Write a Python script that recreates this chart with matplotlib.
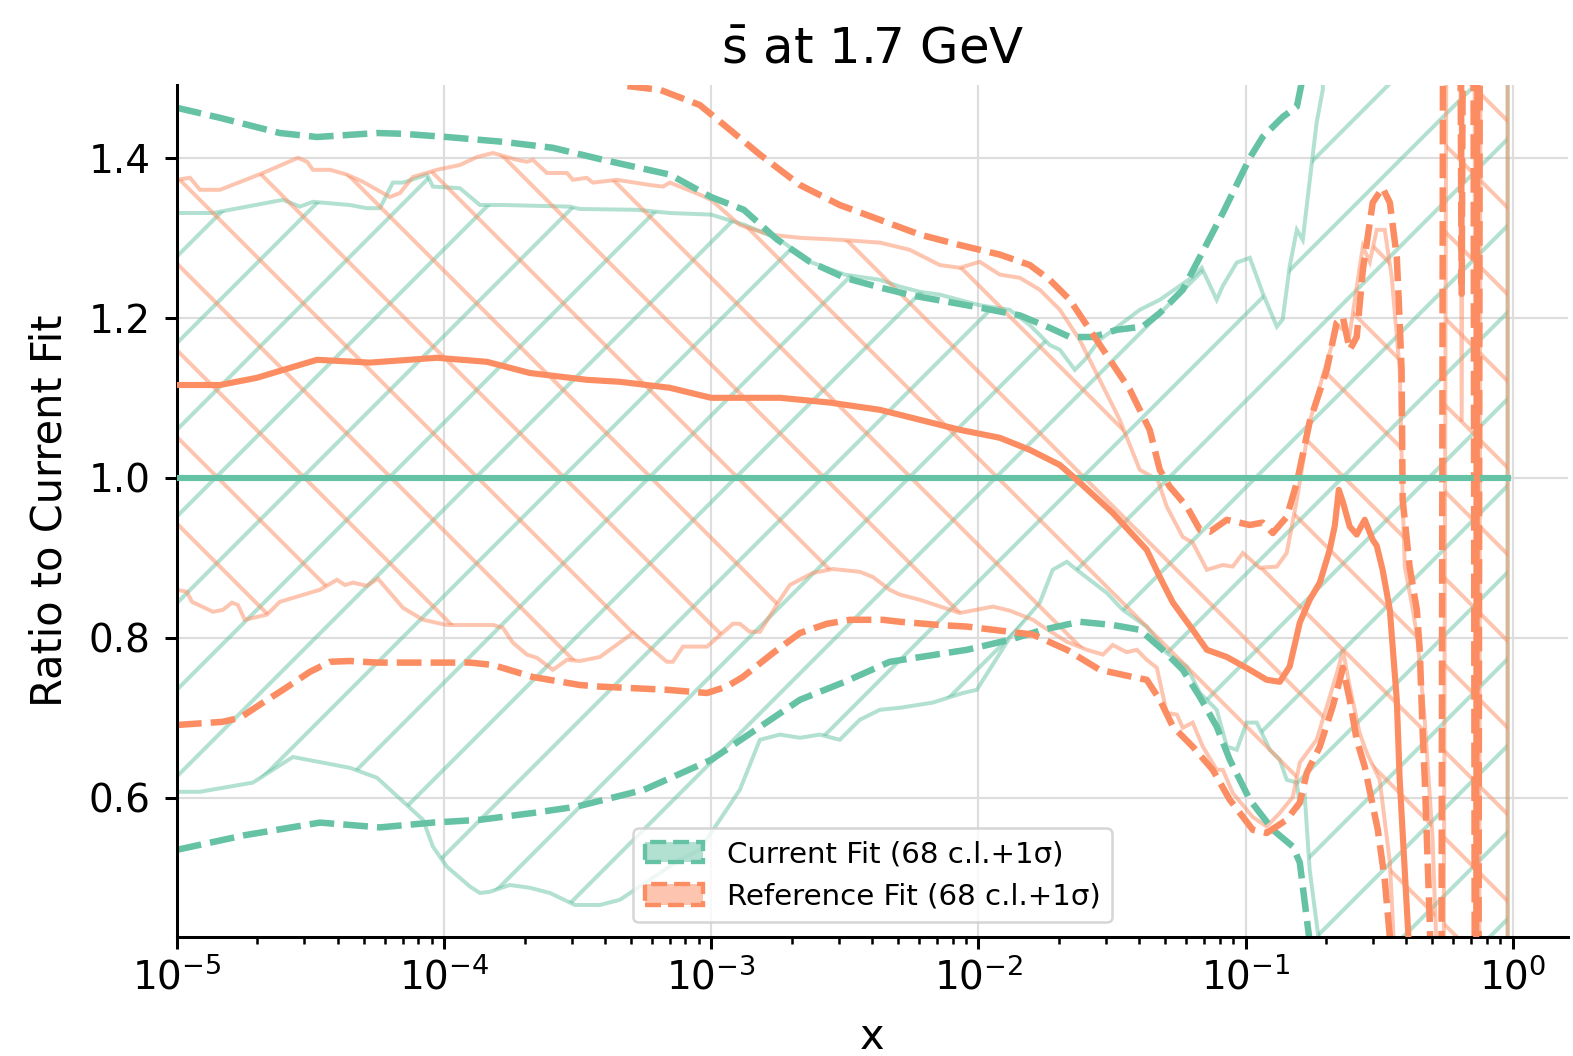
import numpy as np
import matplotlib
matplotlib.use("Agg")
import matplotlib.pyplot as plt
import matplotlib.patches as mpatches
from matplotlib.colors import to_rgba

GREEN = "#66c2a5"
ORANGE = "#fc8d62"

# All x values are log10(x); curves are ratios to the current fit central value.

# --- Current fit -------------------------------------------------------------
cur_cv_lx = [-5.0, -0.019]
cur_cv = [1.0, 1.0]

cur_up1s_lx = [-5.0, -4.839, -4.615, -4.476, -4.251, -4.154, -3.990, -3.780, -3.593, -3.405,
               -3.155, -3.001, -2.878, -2.754, -2.631, -2.5, -2.369, -2.249, -1.999, -1.845,
               -1.733, -1.658, -1.572, -1.482, -1.385, -1.321, -1.235, -1.171, -1.085, -0.984,
               -0.936, -0.861, -0.808, -0.786, -0.74, -0.685, -0.019]
cur_up1s = [1.4625, 1.45, 1.431, 1.426, 1.431, 1.43, 1.426, 1.42, 1.4125, 1.3975,
            1.379, 1.351, 1.335, 1.298, 1.27, 1.25, 1.238, 1.228, 1.213, 1.203,
            1.1875, 1.176, 1.176, 1.185, 1.189, 1.206, 1.235, 1.276, 1.331, 1.40,
            1.426, 1.451, 1.464, 1.50, 1.8, 3.0, 3.0]

cur_dn1s_lx = [-5.0, -4.75, -4.465, -4.24, -4.042, -3.866, -3.668, -3.503, -3.252, -3.0,
               -2.856, -2.668, -2.5, -2.332, -2.043, -1.883, -1.759, -1.621, -1.497, -1.396,
               -1.310, -1.235, -1.171, -1.108, -1.059, -0.984, -0.898, -0.823, -0.797, -0.76,
               -0.722, -0.685, -0.019]
cur_dn1s = [0.535, 0.553, 0.569, 0.563, 0.569, 0.5725, 0.581, 0.589, 0.61, 0.6475,
            0.68, 0.7225, 0.745, 0.77, 0.785, 0.7975, 0.81, 0.82, 0.816, 0.81,
            0.785, 0.76, 0.726, 0.689, 0.6475, 0.5975, 0.56, 0.539, 0.519, 0.42,
            0.0, -1.0, -1.0]

cur_up68_lx = [-5.0, -4.865, -4.603, -4.540, -4.491, -4.353, -4.289, -4.240, -4.192, -4.154,
               -4.064, -4.042, -3.941, -3.866, -3.780, -3.529, -3.492, -3.278, -3.155, -3.001,
               -2.874, -2.743, -2.631, -2.5, -2.369, -2.294, -2.219, -2.145, -1.999, -1.883,
               -1.808, -1.733, -1.695, -1.639, -1.602, -1.546, -1.471, -1.396, -1.321, -1.198,
               -1.164, -1.108, -1.085, -1.033, -0.984, -0.936, -0.883, -0.861, -0.835, -0.808,
               -0.786, -0.734, -0.711, -0.68, -0.62, -0.019]
cur_up68 = [1.331, 1.331, 1.3475, 1.339, 1.345, 1.341, 1.337, 1.337, 1.369, 1.369,
            1.379, 1.364, 1.362, 1.341, 1.341, 1.339, 1.336, 1.335, 1.331, 1.329,
            1.316, 1.2975, 1.27, 1.254, 1.2475, 1.239, 1.2325, 1.229, 1.216, 1.21,
            1.191, 1.166, 1.16, 1.135, 1.1475, 1.1725, 1.191, 1.21, 1.2225, 1.251,
            1.2625, 1.2225, 1.24, 1.269, 1.275, 1.231, 1.189, 1.198, 1.264, 1.31,
            1.2975, 1.444, 1.485, 2.0, 3.0, 3.0]

cur_dn68_lx = [-5.0, -4.914, -4.716, -4.566, -4.353, -4.251, -4.079, -4.042, -3.990, -3.903,
               -3.866, -3.829, -3.754, -3.679, -3.604, -3.510, -3.417, -3.342, -3.230, -3.118,
               -3.043, -2.968, -2.893, -2.818, -2.743, -2.668, -2.594, -2.519, -2.444, -2.369,
               -2.294, -2.171, -2.058, -2.006, -1.883, -1.770, -1.722, -1.669, -1.632, -1.519,
               -1.460, -1.370, -1.295, -1.220, -1.171, -1.108, -1.070, -1.033, -0.996, -0.958,
               -0.909, -0.872, -0.846, -0.808, -0.797, -0.778, -0.760, -0.725, -0.70, -0.66,
               -0.019]
cur_dn68 = [0.6075, 0.6075, 0.619, 0.651, 0.6375, 0.625, 0.5725, 0.539, 0.514, 0.489,
            0.481, 0.4825, 0.491, 0.4875, 0.481, 0.466, 0.466, 0.4725, 0.4975, 0.5225,
            0.535, 0.5725, 0.61, 0.6725, 0.679, 0.675, 0.679, 0.6725, 0.6975, 0.71,
            0.7125, 0.719, 0.731, 0.735, 0.80, 0.844, 0.885, 0.895, 0.885, 0.856,
            0.835, 0.814, 0.781, 0.764, 0.731, 0.71, 0.664, 0.66, 0.694, 0.694,
            0.66, 0.6475, 0.6225, 0.619, 0.591, 0.60, 0.51, 0.42, 0.0, -1.0,
            -1.0]

# --- Reference fit -----------------------------------------------------------
ref_cv_lx = [-5.0, -4.839, -4.701, -4.476, -4.278, -4.027, -3.840, -3.679, -3.466, -3.342,
             -3.155, -3.001, -2.743, -2.556, -2.369, -2.219, -2.070, -1.920, -1.808, -1.695,
             -1.632, -1.497, -1.370, -1.321, -1.272, -1.198, -1.145, -1.070, -0.984, -0.921,
             -0.872, -0.835, -0.797, -0.760, -0.722, -0.685, -0.666, -0.651, -0.636, -0.610,
             -0.584, -0.554, -0.524, -0.509, -0.487, -0.460, -0.434, -0.423, -0.386, -0.35,
             -0.30, -0.142, -0.127, -0.019]
ref_cv = [1.116, 1.116, 1.125, 1.1475, 1.144, 1.15, 1.145, 1.131, 1.1225, 1.12,
          1.1125, 1.10, 1.10, 1.094, 1.085, 1.0725, 1.06, 1.05, 1.035, 1.016,
          0.9975, 0.956, 0.91, 0.876, 0.844, 0.81, 0.785, 0.776, 0.76, 0.7475,
          0.745, 0.764, 0.819, 0.8475, 0.869, 0.91, 0.94, 0.985, 0.97, 0.939,
          0.929, 0.9475, 0.9225, 0.915, 0.885, 0.835, 0.7225, 0.6225, 0.40, 0.0,
          -1.0, -1.0, 3.0, 3.0]

ref_up1s_lx = [-5.0, -4.0, -3.5, -3.323, -3.192, -3.043, -2.930, -2.818, -2.668, -2.519,
               -2.369, -2.219, -2.070, -1.920, -1.808, -1.733, -1.658, -1.583, -1.508, -1.433,
               -1.359, -1.321, -1.284, -1.220, -1.171, -1.134, -1.070, -0.984, -0.936, -0.898,
               -0.846, -0.808, -0.760, -0.696, -0.659, -0.636, -0.610, -0.584, -0.561, -0.524,
               -0.487, -0.460, -0.434, -0.423, -0.416, -0.412, -0.386, -0.359, -0.348, -0.337,
               -0.329, -0.311, -0.292, -0.273, -0.254, -0.217, -0.191, -0.168, -0.152, -0.137,
               -0.019]
ref_up1s = [1.62, 1.60, 1.54, 1.49, 1.485, 1.466, 1.435, 1.404, 1.366, 1.341,
            1.3225, 1.304, 1.291, 1.279, 1.266, 1.2475, 1.2225, 1.185, 1.1475, 1.11,
            1.06, 1.01, 0.989, 0.964, 0.935, 0.9325, 0.9475, 0.941, 0.944, 0.931,
            0.951, 0.994, 1.07, 1.135, 1.194, 1.201, 1.16, 1.176, 1.26, 1.344,
            1.3625, 1.344, 1.276, 1.194, 1.135, 0.9725, 0.889, 0.835, 0.785, 0.681,
            0.6225, 0.45, 0.2, -1.0, 3.0, 3.0, 1.23, 3.0, 3.0, -1.0,
            -1.0]

ref_dn1s_lx = [-5.0, -4.828, -4.764, -4.678, -4.603, -4.502, -4.427, -4.353, -4.251, -3.903,
               -3.817, -3.668, -3.492, -3.417, -3.166, -3.016, -2.942, -2.882, -2.769, -2.668,
               -2.567, -2.481, -2.358, -2.294, -2.145, -2.043, -1.796, -1.669, -1.546, -1.422,
               -1.370, -1.321, -1.272, -1.198, -1.123, -1.059, -0.973, -0.921, -0.846, -0.797,
               -0.771, -0.722, -0.674, -0.647, -0.636, -0.610, -0.584, -0.554, -0.505, -0.479,
               -0.453, -0.42, -0.38, -0.133, -0.118, -0.019]
ref_dn1s = [0.691, 0.695, 0.70, 0.719, 0.735, 0.7575, 0.77, 0.771, 0.769, 0.769,
            0.766, 0.751, 0.741, 0.739, 0.735, 0.731, 0.739, 0.751, 0.781, 0.806,
            0.8175, 0.8225, 0.8225, 0.82, 0.816, 0.814, 0.804, 0.785, 0.76, 0.751,
            0.7475, 0.7225, 0.689, 0.664, 0.635, 0.5975, 0.56, 0.556, 0.5725, 0.594,
            0.631, 0.664, 0.714, 0.7475, 0.7625, 0.7225, 0.6725, 0.639, 0.56, 0.4975,
            0.40, 0.0, -1.0, -1.0, 3.0, 3.0]

ref_up68_lx = [-5.0, -4.951, -4.914, -4.839, -4.678, -4.547, -4.513, -4.491, -4.427, -4.364,
               -4.304, -4.203, -4.165, -4.117, -4.027, -3.941, -3.877, -3.817, -3.728, -3.690,
               -3.668, -3.615, -3.540, -3.518, -3.466, -3.443, -3.353, -3.230, -3.181, -3.155,
               -3.043, -3.001, -2.893, -2.781, -2.668, -2.519, -2.369, -2.257, -2.145, -2.070,
               -1.995, -1.920, -1.845, -1.770, -1.695, -1.621, -1.546, -1.471, -1.396, -1.329,
               -1.295, -1.235, -1.198, -1.145, -1.085, -1.048, -1.010, -0.947, -0.883, -0.846,
               -0.808, -0.760, -0.70, -0.655, -0.610, -0.561, -0.535, -0.509, -0.479, -0.453,
               -0.423, -0.412, -0.404, -0.374, -0.356, -0.33, -0.30, -0.284, -0.27, -0.236,
               -0.210, -0.191, -0.172, -0.148, -0.133, -0.019]
ref_up68 = [1.3725, 1.375, 1.36, 1.36, 1.381, 1.40, 1.395, 1.385, 1.385, 1.379,
            1.37, 1.351, 1.356, 1.376, 1.385, 1.391, 1.401, 1.406, 1.3975, 1.395,
            1.3975, 1.381, 1.381, 1.3725, 1.375, 1.369, 1.3725, 1.366, 1.364, 1.369,
            1.354, 1.3475, 1.316, 1.304, 1.30, 1.2975, 1.294, 1.285, 1.266, 1.2625,
            1.27, 1.254, 1.25, 1.235, 1.21, 1.1725, 1.1225, 1.0725, 1.01, 0.9975,
            0.964, 0.926, 0.919, 0.885, 0.891, 0.889, 0.906, 0.8875, 0.889, 0.906,
            0.9725, 1.07, 1.14, 1.19, 1.18, 1.289, 1.27, 1.31, 1.31, 1.251,
            1.135, 0.9725, 0.889, 0.835, 0.7975, 0.70, 0.55, 0.40, -1.0, 3.0,
            3.0, 1.07, 3.0, 3.0, -1.0, -1.0]

ref_dn68_lx = [-5.0, -4.963, -4.944, -4.865, -4.828, -4.794, -4.772, -4.746, -4.663, -4.615,
               -4.465, -4.401, -4.371, -4.341, -4.289, -4.248, -4.154, -4.079, -3.990, -3.903,
               -3.817, -3.780, -3.743, -3.690, -3.653, -3.593, -3.540, -3.492, -3.417, -3.293,
               -3.166, -3.144, -3.106, -3.016, -2.919, -2.893, -2.856, -2.818, -2.743, -2.706,
               -2.620, -2.545, -2.444, -2.395, -2.332, -2.294, -2.219, -2.070, -1.946, -1.883,
               -1.796, -1.759, -1.669, -1.594, -1.534, -1.497, -1.445, -1.407, -1.370, -1.332,
               -1.295, -1.257, -1.235, -1.198, -1.160, -1.108, -1.085, -1.048, -0.973, -0.921,
               -0.872, -0.823, -0.797, -0.734, -0.685, -0.647, -0.636, -0.610, -0.573, -0.546,
               -0.498, -0.46, -0.442, -0.40, -0.37, -0.130, -0.115, -0.019]
ref_dn68 = [0.86, 0.8575, 0.845, 0.8325, 0.835, 0.844, 0.841, 0.8225, 0.829, 0.845,
            0.86, 0.8725, 0.866, 0.869, 0.865, 0.874, 0.8375, 0.8225, 0.816, 0.816,
            0.816, 0.8125, 0.794, 0.779, 0.775, 0.76, 0.7725, 0.771, 0.776, 0.806,
            0.77, 0.77, 0.789, 0.789, 0.8175, 0.8175, 0.8075, 0.8075, 0.8475, 0.866,
            0.881, 0.886, 0.8825, 0.876, 0.86, 0.854, 0.8475, 0.831, 0.839, 0.834,
            0.8225, 0.814, 0.795, 0.785, 0.779, 0.791, 0.782, 0.785, 0.7725, 0.7625,
            0.706, 0.704, 0.6875, 0.694, 0.664, 0.635, 0.635, 0.606, 0.576, 0.564,
            0.581, 0.601, 0.644, 0.6725, 0.726, 0.769, 0.785, 0.739, 0.681, 0.656,
            0.6225, 0.52, 0.40, 0.0, -1.0, -1.0, 3.0, 3.0]

labels = ["Current Fit (68 c.l.+1σ)", "Reference Fit (68 c.l.+1σ)"]

plt.rcParams["hatch.linewidth"] = 0.55
plt.rcParams["axes.linewidth"] = 0.42

DPI = 520
fig = plt.figure(figsize=(1573 / DPI, 1056 / DPI), dpi=DPI)
ax = fig.add_axes([0.1125, 0.1127, 0.9968 - 0.1125, 0.9195 - 0.1127])


def lin(lx):
    return 10 ** np.asarray(lx, dtype=float)


def draw_fit(cv_lx, cv, up68_lx, up68, dn68_lx, dn68, up1s_lx, up1s, dn1s_lx, dn1s,
             color, hatch):
    # 68% band: hatched outline, then the 1 sigma curves dashed, central value solid
    xs = np.concatenate([lin(up68_lx), lin(dn68_lx)[::-1]])
    ys = np.concatenate([up68, dn68[::-1]])
    ax.fill(xs, ys, facecolor="none", edgecolor=color, alpha=0.5, hatch=hatch,
            linewidth=0.55, zorder=1)
    ax.plot(lin(up1s_lx), up1s, color=color, ls="--", lw=0.9, dashes=(3.8, 1.4), zorder=2)
    ax.plot(lin(dn1s_lx), dn1s, color=color, ls="--", lw=0.9, dashes=(3.8, 1.4), zorder=2)
    ax.plot(lin(cv_lx), cv, color=color, lw=0.85, zorder=3)


draw_fit(cur_cv_lx, cur_cv, cur_up68_lx, cur_up68, cur_dn68_lx, cur_dn68,
         cur_up1s_lx, cur_up1s, cur_dn1s_lx, cur_dn1s, GREEN, "//")
draw_fit(ref_cv_lx, ref_cv, ref_up68_lx, ref_up68, ref_dn68_lx, ref_dn68,
         ref_up1s_lx, ref_up1s, ref_dn1s_lx, ref_dn1s, ORANGE, "\\\\")

ax.set_xscale("log")
ax.set_xlim(1e-5, 1.61)
ax.set_ylim(0.426, 1.491)
ax.set_yticks([0.6, 0.8, 1.0, 1.2, 1.4])

ax.grid(True, which="major", color="#dddddd", lw=0.3)
ax.set_axisbelow(True)
for side in ("top", "right"):
    ax.spines[side].set_visible(False)

ax.tick_params(which="major", length=1.7, width=0.42, labelsize=5.4, pad=1.2)
ax.tick_params(which="minor", length=0.9, width=0.35)
ax.tick_params(axis="y", pad=2.0)

ax.set_title("$\\bar{\\mathrm{s}}$ at 1.7 GeV", fontsize=6.9, pad=3)
ax.set_xlabel("x", fontsize=5.75, labelpad=2.6)
ax.set_ylabel("Ratio to Current Fit", fontsize=5.75, labelpad=2.5)

handles = [
    mpatches.Patch(facecolor=to_rgba(GREEN, 0.5), edgecolor=GREEN, linestyle="--", linewidth=0.6),
    mpatches.Patch(facecolor=to_rgba(ORANGE, 0.5), edgecolor=ORANGE, linestyle="--", linewidth=0.6),
]
leg = ax.legend(handles, labels, loc="lower center", fontsize=4.05, borderaxespad=0.5)
leg.get_frame().set_linewidth(0.35)

fig.savefig("out.png", dpi=DPI)
